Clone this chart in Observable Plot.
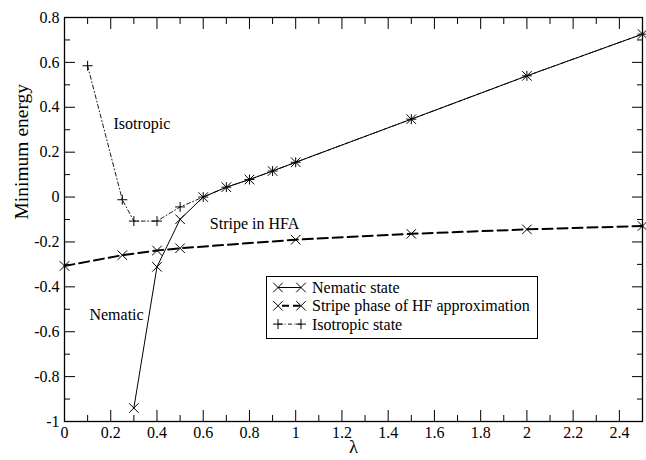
<!DOCTYPE html>
<html><head><meta charset="utf-8">
<script src="https://cdn.jsdelivr.net/npm/d3@7"></script>
<script src="https://cdn.jsdelivr.net/npm/@observablehq/plot@0.6"></script>
<style>
body{margin:0;background:#fff}
#chart{width:646px;height:460px}
#chart svg, #chart svg text { font-family: "Liberation Serif", "Times New Roman", serif !important; }
</style>
</head><body><div id="chart"></div>
<script>
// Data
const lambdaNematic = [0.3, 0.4, 0.5, 0.6, 0.7, 0.8, 0.9, 1.0, 1.5, 2.0, 2.5];
const energyNematic = [-0.94, -0.311, -0.099, 0.0, 0.044, 0.078, 0.116, 0.155, 0.347, 0.54, 0.726];
const lambdaStripe = [0, 0.25, 0.4, 0.5, 1.0, 1.5, 2.0, 2.5];
const energyStripe = [-0.307, -0.259, -0.238, -0.228, -0.19, -0.164, -0.144, -0.129];
const lambdaIso = [0.1, 0.25, 0.3, 0.4, 0.5, 0.6, 0.7, 0.8, 0.9, 1.0, 1.5, 2.0, 2.5];
const energyIso = [0.585, -0.012, -0.107, -0.107, -0.044, 0.0, 0.044, 0.078, 0.116, 0.155, 0.347, 0.54, 0.726];
const seriesNames = ["Nematic state", "Stripe phase of HF approximation", "Isotropic state"];
const regionLabels = ["Isotropic", "Stripe in HFA", "Nematic"];
const regionLambda = [0.335, 0.822, 0.225];
const regionEnergy = [0.328, -0.118, -0.524];
const xTicks = [0, 0.2, 0.4, 0.6, 0.8, 1.0, 1.2, 1.4, 1.6, 1.8, 2.0, 2.2, 2.4];
const xTickLabels = ["0", "0.2", "0.4", "0.6", "0.8", "1", "1.2", "1.4", "1.6", "1.8", "2", "2.2", "2.4"];
const xMinorTicks = [0.1, 0.3, 0.5, 0.7, 0.9, 1.1, 1.3, 1.5, 1.7, 1.9, 2.1, 2.3];
const yTicks = [-1, -0.8, -0.6, -0.4, -0.2, 0, 0.2, 0.4, 0.6, 0.8];
const yTickLabels = ["-1", "-0.8", "-0.6", "-0.4", "-0.2", "0", "0.2", "0.4", "0.6", "0.8"];
const yMinorTicks = [-0.9, -0.7, -0.5, -0.3, -0.1, 0.1, 0.3, 0.5, 0.7];
const xTitle = "λ";
const yTitle = "Minimum energy";

const nematic = lambdaNematic.map((x, i) => ({x, y: energyNematic[i]}));
const stripe = lambdaStripe.map((x, i) => ({x, y: energyStripe[i]}));
const iso = lambdaIso.map((x, i) => ({x, y: energyIso[i]}));
const regions = regionLabels.map((t, i) => ({t, x: regionLambda[i], y: regionEnergy[i]}));
const xFmt = new Map(xTicks.map((d, i) => [d, xTickLabels[i]]));
const yFmt = new Map(yTicks.map((d, i) => [d, yTickLabels[i]]));

const serifFont = "Liberation Serif, Times New Roman, serif";
const T = {fontFamily: serifFont};
const isoDash = "4,2.5,1,2.5";

const plot = Plot.plot({
  width: 646, height: 460,
  marginLeft: 64, marginRight: 4, marginTop: 17, marginBottom: 39,
  x: {domain: [0, 2.5]},
  y: {domain: [-1, 0.8]},
  style: {fontFamily: serifFont, fontSize: "16px", color: "#000", background: "#fff", overflow: "visible"},
  marks: [
    // tick labels
    Plot.axisX(xTicks, {anchor: "bottom", tickSize: 0, tickPadding: 5, tickFormat: d => xFmt.get(d), label: null, fontSize: 16, ...T}),
    Plot.axisY(yTicks, {anchor: "left", tickSize: 0, tickPadding: 5, tickFormat: d => yFmt.get(d), label: null, fontSize: 16, ...T}),
    // inward ticks on all four sides
    Plot.axisX(xTicks, {anchor: "bottom", tickSize: 11, dy: -11, tickFormat: () => "", label: null}),
    Plot.axisX(xMinorTicks, {anchor: "bottom", tickSize: 6, dy: -6, tickFormat: () => "", label: null}),
    Plot.axisX(xTicks, {anchor: "top", tickSize: 11, dy: 11, tickFormat: () => "", label: null}),
    Plot.axisX(xMinorTicks, {anchor: "top", tickSize: 6, dy: 6, tickFormat: () => "", label: null}),
    Plot.axisY(yTicks, {anchor: "left", tickSize: 11, dx: 11, tickFormat: () => "", label: null}),
    Plot.axisY(yMinorTicks, {anchor: "left", tickSize: 6, dx: 6, tickFormat: () => "", label: null}),
    Plot.axisY(yTicks, {anchor: "right", tickSize: 11, dx: -11, tickFormat: () => "", label: null}),
    Plot.axisY(yMinorTicks, {anchor: "right", tickSize: 6, dx: -6, tickFormat: () => "", label: null}),
    Plot.frame({stroke: "#000", strokeWidth: 1.3}),
    // axis titles
    Plot.text([yTitle], {frameAnchor: "left", dx: -43, rotate: -90, fontSize: 19.5, text: d => d, ...T}),
    Plot.text([xTitle], {frameAnchor: "bottom", dy: 31, fontSize: 18.5, text: d => d, ...T}),
    // series
    Plot.line(stripe, {x: "x", y: "y", stroke: "#000", strokeWidth: 2, strokeDasharray: "10,5"}),
    Plot.line(nematic, {x: "x", y: "y", stroke: "#000", strokeWidth: 1}),
    Plot.line(iso, {x: "x", y: "y", stroke: "#000", strokeWidth: 0.9, strokeDasharray: isoDash}),
    Plot.dot(stripe, {x: "x", y: "y", symbol: "times", r: 4.4, stroke: "#000", strokeWidth: 1}),
    Plot.dot(nematic, {x: "x", y: "y", symbol: "times", r: 4.4, stroke: "#000", strokeWidth: 1}),
    Plot.dot(iso, {x: "x", y: "y", symbol: "plus", r: 3.3, stroke: "#000", strokeWidth: 1}),
    // region annotations
    Plot.text(regions, {x: "x", y: "y", text: "t", fontSize: 16, fill: "#000", ...T})
  ]
});
document.getElementById("chart").appendChild(plot);

// legend box (decoration)
const svg = d3.select(plot);
const lg = svg.append("g").attr("font-family", serifFont).attr("font-size", 16).attr("text-anchor", "start");
lg.append("rect").attr("x", 266.5).attr("y", 276.5).attr("width", 271).attr("height", 62)
  .attr("fill", "#fff").attr("stroke", "#000").attr("stroke-width", 1);
const dashes = [null, "7,4", isoDash];
const widths = [1, 2, 0.9];
const syms = [d3.symbolTimes, d3.symbolTimes, d3.symbolPlus];
const sizes = [Math.PI * 4.4 * 4.4, Math.PI * 4.4 * 4.4, Math.PI * 3.3 * 3.3];
seriesNames.forEach((name, i) => {
  const cy = 287.5 + i * 18.3;
  lg.append("line").attr("x1", 278).attr("x2", 301).attr("y1", cy).attr("y2", cy)
    .attr("stroke", "#000").attr("stroke-width", widths[i]).attr("stroke-dasharray", dashes[i])
    .attr("stroke-dashoffset", i === 1 ? -4 : 0);
  [278, 301].forEach(cx => lg.append("path").attr("d", d3.symbol(syms[i], sizes[i])())
    .attr("transform", `translate(${cx},${cy})`).attr("fill", "none").attr("stroke", "#000"));
  lg.append("text").attr("x", 312).attr("y", cy + 5.5).attr("text-anchor", "start").text(name);
});
</script>
</body></html>
